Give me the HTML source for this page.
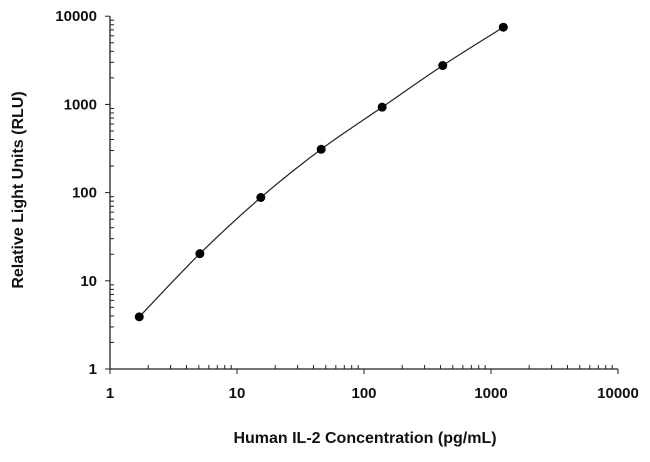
<!DOCTYPE html>
<html><head><meta charset="utf-8"><style>
body{margin:0;background:#fff}
svg text{font-family:"Liberation Sans",sans-serif;font-weight:bold;fill:#111}
</style></head><body>
<svg id="chart" width="650" height="457" xmlns="http://www.w3.org/2000/svg">
<g id="axes"></g>
<g id="series"></g>
<text x="365" y="443" text-anchor="middle" font-size="16">Human IL-2 Concentration (pg/mL)</text>
<text transform="translate(23,190) rotate(-90)" text-anchor="middle" font-size="16">Relative Light Units (RLU)</text>
</svg>
<script>
const xTicks=[1,10,100,1000,10000];
const yTicks=[1,10,100,1000,10000];
const conc=[1.7,5.1,15.4,46,139,417,1250];
const rlu=[3.9,20.3,88,310,930,2760,7500];
const X=v=>110+Math.log10(v)*127;
const Y=v=>369-Math.log10(v)*88.2;
const NS="http://www.w3.org/2000/svg";
const ax=document.getElementById('axes'),se=document.getElementById('series');
function mk(p,tag,a){const e=document.createElementNS(NS,tag);for(const k in a)e.setAttribute(k,a[k]);p.appendChild(e);return e;}
const xl=mk(ax,'line',{x1:110,y1:369,x2:X(10000),y2:369,stroke:'#222','stroke-width':1.3});


const yl=mk(ax,'line',{x1:110,y1:369,x2:110,y2:Y(10000),stroke:'#222','stroke-width':1.3});


xTicks.forEach((t,i)=>{
 mk(ax,'line',{x1:X(t),y1:369,x2:X(t),y2:374,stroke:'#222'});
 const tx=mk(ax,'text',{x:X(t),y:398,'text-anchor':'middle','font-size':15});
 tx.textContent=t;
 
 
 if(i<xTicks.length-1)for(let m=2;m<10;m++)mk(ax,'line',{x1:X(t*m),y1:369,x2:X(t*m),y2:365,stroke:'#222'});
});
yTicks.forEach((t,i)=>{
 mk(ax,'line',{x1:105,y1:Y(t),x2:110,y2:Y(t),stroke:'#222'});
 const tx=mk(ax,'text',{x:97,y:Y(t)+5,'text-anchor':'end','font-size':15});
 tx.textContent=t;
 
 
 if(i<yTicks.length-1)for(let m=2;m<10;m++)mk(ax,'line',{x1:110,y1:Y(t*m),x2:114,y2:Y(t*m),stroke:'#222'});
});
const pts=conc.map((c,i)=>[X(c),Y(rlu[i])]);
let d=`M${pts[0][0]},${pts[0][1]}`;
for(let i=0;i<pts.length-1;i++){
 const p0=pts[Math.max(0,i-1)],p1=pts[i],p2=pts[i+1],p3=pts[Math.min(pts.length-1,i+2)];
 const c1=[p1[0]+(p2[0]-p0[0])/6,p1[1]+(p2[1]-p0[1])/6],c2=[p2[0]-(p3[0]-p1[0])/6,p2[1]-(p3[1]-p1[1])/6];
 d+=` C${c1[0]},${c1[1]} ${c2[0]},${c2[1]} ${p2[0]},${p2[1]}`;
}
const cv=mk(se,'path',{d:d,fill:'none',stroke:'#222','stroke-width':1.2});


pts.forEach(p=>{
 const c=mk(se,'circle',{cx:p[0],cy:p[1],r:4.5,fill:'#000'});
 
 
});
</script>
</body></html>
